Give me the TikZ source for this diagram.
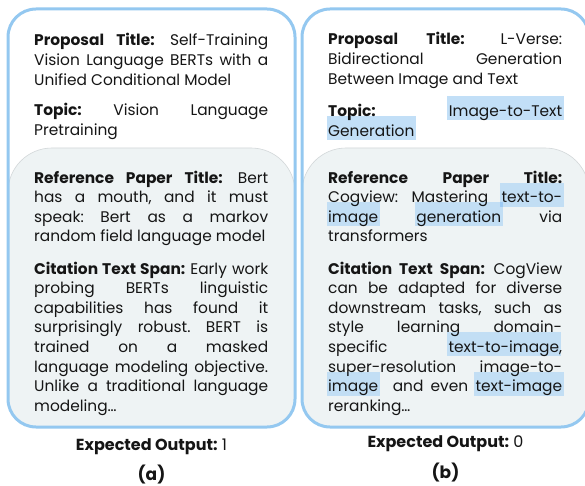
\documentclass[tikz,border=0pt]{standalone}
\usepackage{fontspec}
\setmainfont{Poppins}
\frenchspacing
\definecolor{borderblue}{HTML}{94C8F0}
\definecolor{innergrey}{HTML}{EEF3F4}
\definecolor{innerline}{HTML}{D2D7D9}
\definecolor{hlblue}{HTML}{C2DFF7}
\definecolor{hlgrey}{HTML}{D0EAFF}
\definecolor{ink}{HTML}{151515}
\newsavebox\hlbox
\makeatletter
\newcommand\hl[2][hlblue]{\leavevmode\sbox\hlbox{#2}%
  \hbox to 0pt{\kern-1.5pt\smash{\pgfsys@beginscope\pgfsetblendmode{multiply}%
  {\color{#1}\rule[-4pt]{\dimexpr\wd\hlbox+3pt\relax}{24pt}}\pgfsys@endscope}\hss}\usebox\hlbox}
\makeatother
\tikzset{
  panel/.style={draw=borderblue, line width=3pt, rounded corners=28pt},
  innerbox/.style={fill=innergrey, draw=innerline, line width=0.6pt, rounded corners=44pt},
  para/.style={anchor=base west, text width=234pt, align=justify, inner sep=0pt,
    font=\fontsize{15.4}{19.6}\selectfont\frenchspacing, text=ink},
  outlab/.style={anchor=base, inner sep=0pt, font=\fontsize{16}{18}\selectfont, text=ink},
  sublab/.style={anchor=base, inner sep=0pt, font=\fontsize{17}{20}\selectfont\bfseries, text=ink}
}
\begin{document}
\begin{tikzpicture}[x=1pt,y=-1pt]
\useasboundingbox (0,0) rectangle (585,486);
\begin{scope}
\clip (0,0) rectangle (585,486);
% left panel
\fill[white, rounded corners=28pt] (8,9) rectangle (295,427);
\begin{scope}
\clip[rounded corners=28pt] (8,9) rectangle (295,427);
\draw[innerbox] (8,148) rectangle (295,470);
\end{scope}
\draw[panel] (8,9) rectangle (295,427);
% right panel
\fill[white, rounded corners=28pt] (302,9) rectangle (589,427);
\begin{scope}
\clip[rounded corners=28pt] (302,9) rectangle (589,427);
\draw[innerbox] (302,148) rectangle (589,470);
\end{scope}
\draw[panel] (302,9) rectangle (589,427);
\end{scope}

% left texts
\node[para] (propa) at (34,46) {\textbf{Proposal Title:} Self-Training\linebreak Vision Language BERTs with a\linebreak Unified Conditional Model};
\node[para] (topa) at (34,116) {\textbf{Topic:} Vision Language\linebreak Pretraining};
\node[para] (refa) at (34,183) {\textbf{Reference Paper Title:} Bert\linebreak has a mouth, and it must\linebreak speak: Bert as a markov\linebreak random field language model};
\node[para] (cita) at (34,274) {\textbf{Citation Text Span:} Early work\linebreak probing BERTs linguistic\linebreak capabilities has found it\linebreak surprisingly robust. BERT is\linebreak trained on a masked\linebreak language modeling objective.\linebreak Unlike a traditional language\linebreak modeling…};
\node[outlab] (outa) at (151.5,450) {\textbf{Expected Output:} 1};
\node[sublab] (laba) at (151.5,480) {(a)};

% right texts
\node[para] (propb) at (328,45) {\textbf{Proposal Title:} L-Verse:\linebreak Bidirectional Generation\linebreak Between Image and Text};
\node[para] (topb) at (328,116.5) {\textbf{Topic:} \hl{Image-to-Text}\linebreak \hl{Generation}};
\node[para] (refb) at (328,183) {\textbf{Reference Paper Title:}\linebreak Cogview: Mastering \hl[hlgrey]{text-to-}\linebreak \hl[hlgrey]{image} \hl[hlgrey]{generation} via\linebreak transformers};
\node[para] (citb) at (328,274) {\textbf{Citation Text Span:} CogView\linebreak can be adapted for diverse\linebreak downstream tasks, such as\linebreak style learning domain-\linebreak specific \hl[hlgrey]{text-to-image},\linebreak super-resolution image-to-\linebreak \hl[hlgrey]{image}\ \ and even \hl[hlgrey]{text-image}\linebreak reranking…};
\node[outlab] (outb) at (445.5,447) {\textbf{Expected Output:} 0};
\node[sublab] (labb) at (445.5,478) {(b)};
\end{tikzpicture}
\end{document}
